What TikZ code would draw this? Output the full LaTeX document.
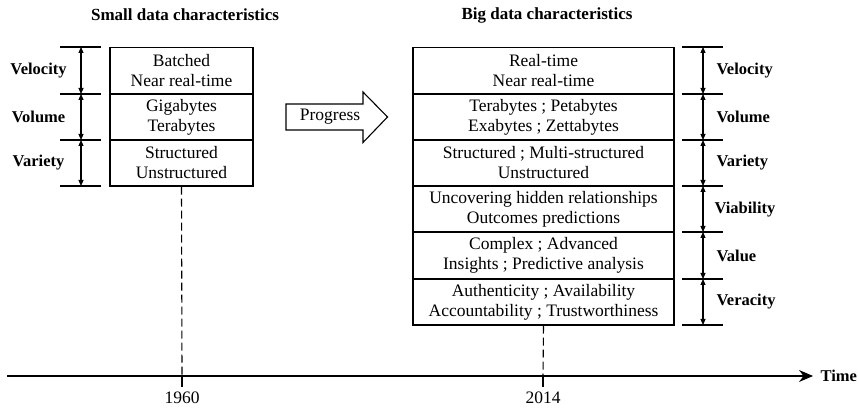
\documentclass[tikz,border=0pt]{standalone}
\usepackage{fontspec}
\setmainfont{Liberation Serif}
\usetikzlibrary{arrows.meta}
\begin{document}
\begin{tikzpicture}[x=1pt,y=-1pt,
  txt/.style={font=\fontsize{17.5}{20}\selectfont, align=center},
  lbl/.style={font=\fontsize{16.5}{20}\selectfont\bfseries},
  cell/.style={draw, line width=1.1pt, rectangle, inner sep=0pt, txt},
  tick/.style={line width=1.1pt},
  dim/.style={line width=1.1pt, {Triangle[length=6pt,width=5pt]}-{Triangle[length=6pt,width=5pt]}},
  guide/.style={line width=1.1pt, dash pattern=on 8pt off 4pt},
  axisline/.style={line width=1.1pt, -{Stealth[length=14pt,width=12pt]}}]
\useasboundingbox (0,0) rectangle (859,411);

% titles
\node[font=\fontsize{17}{20}\selectfont\bfseries] (t1) at (185,15) {Small data characteristics};
\node[font=\fontsize{17}{20}\selectfont\bfseries] (t2) at (547,15) {Big data characteristics};

% left box
\node[cell, minimum width=143pt, minimum height=46.5pt] (s1) at (181.5,70.5) {Batched\\Near real-time};
\node[cell, minimum width=143pt, minimum height=46pt] (s2) at (181.5,117) {Gigabytes\\Terabytes};
\node[cell, minimum width=143pt, minimum height=46pt] (s3) at (181.5,163) {Structured\\Unstructured};

% right box
\node[cell, minimum width=261pt, minimum height=46.5pt] (b1) at (543.5,70.5) {Real-time\\Near real-time};
\node[cell, minimum width=261pt, minimum height=46pt] (b2) at (543.5,117) {Terabytes ; Petabytes\\Exabytes ; Zettabytes};
\node[cell, minimum width=261pt, minimum height=46pt] (b3) at (543.5,163) {Structured ; Multi-structured\\Unstructured};
\node[cell, minimum width=261pt, minimum height=46pt] (b4) at (543.5,209) {Uncovering hidden relationships\\Outcomes predictions};
\node[cell, minimum width=261pt, minimum height=47pt] (b5) at (543.5,255.5) {Complex ; Advanced\\Insights ; Predictive analysis};
\node[cell, minimum width=261pt, minimum height=46pt] (b6) at (543.5,302) {Authenticity ; Availability\\Accountability ; Trustworthiness};

% left dimension ticks
\foreach \i/\y in {0/47,1/94,2/140,3/186}{
  \draw[tick] (60,\y) -- (101,\y);
  \coordinate (l\i) at (81,\y);
}
\draw[dim] (l0) -- (l1);
\draw[dim] (l1) -- (l2);
\draw[dim] (l2) -- (l3);
\node[lbl] (lv1) at (38.5,71) {Velocity};
\node[lbl] (lv2) at (38.5,117) {Volume};
\node[lbl] (lv3) at (38.5,163) {Variety};

% right dimension ticks
\foreach \i/\y in {0/47,1/94,2/140,3/186,4/232,5/279,6/325}{
  \draw[tick] (682,\y) -- (723,\y);
  \coordinate (r\i) at (703,\y);
}
\foreach \a/\b in {0/1,1/2,2/3,3/4,4/5,5/6}{
  \draw[dim] (r\a) -- (r\b);
}
\node[lbl, anchor=west] (rv1) at (713,71) {Velocity};
\node[lbl, anchor=west] (rv2) at (713,117) {Volume};
\node[lbl, anchor=west] (rv3) at (713,163) {Variety};
\node[lbl, anchor=west] (rv4) at (711,210) {Viability};
\node[lbl, anchor=west] (rv5) at (713,256) {Value};
\node[lbl, anchor=west] (rv6) at (713,302) {Veracity};

% progress arrow
\draw[line width=1.1pt, line join=miter] (286,104) -- (363,104) -- (363,92) -- (387.5,117) -- (363,142.5) -- (363,130) -- (286,130) -- cycle;
\node[txt] (prog) at (330,117) {Progress};

% time axis
\coordinate (ax0) at (7,376);
\coordinate (ax1) at (813,376);
\draw[axisline] (ax0) -- (ax1);
\node[lbl, anchor=west] (time) at (817,376) {Time};

% year markers
\coordinate (y1) at (182,387);
\coordinate (y2) at (543,387);
\draw[guide] (s3.south) -- (182,376);
\draw[tick] (182,376) -- (y1);
\draw[guide] (b6.south) -- (543,376);
\draw[tick] (543,376) -- (y2);
\node[txt, anchor=north] (yr1) at (182,388) {1960};
\node[txt, anchor=north] (yr2) at (543,388) {2014};
\end{tikzpicture}
\end{document}
